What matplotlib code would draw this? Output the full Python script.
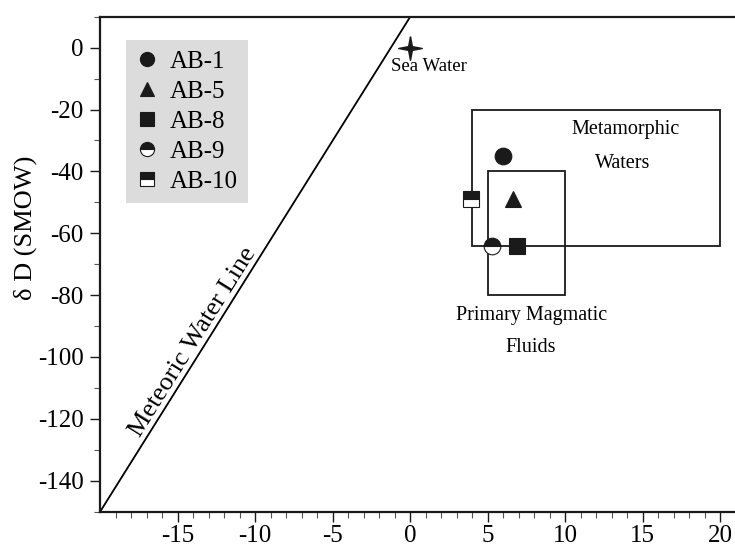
import matplotlib
matplotlib.use("Agg")
import matplotlib.pyplot as plt
from matplotlib.lines import Line2D
from matplotlib.patches import Rectangle
import numpy as np

plt.rcParams['font.family'] = ['Liberation Serif', 'DejaVu Serif']
plt.rcParams['axes.unicode_minus'] = False

# ---- data ----
samples = ['AB-1', 'AB-5', 'AB-8', 'AB-9', 'AB-10']
d18O = [6.0, 6.6, 6.9, 5.3, 3.9]
dD = [-35, -49, -64, -64, -49]
sample_markers = ['o', '^', 's', 'o', 's']
sample_fill = ['full', 'full', 'full', 'top', 'top']

mwl_x = [-20, 0]
mwl_y = [-150, 10]

seawater_x = [0]
seawater_y = [0]

metamorphic_box = dict(x0=4, x1=20, y0=-64, y1=-20)
magmatic_box = dict(x0=5, x1=10, y0=-80, y1=-40)

xticks = [-15, -10, -5, 0, 5, 10, 15, 20]
yticks = [0, -20, -40, -60, -80, -100, -120, -140]

# ---- figure ----
fig = plt.figure(figsize=(7.35, 5.52), dpi=100)
ax = fig.add_axes([0.1363, 0.0732, 0.8637, 0.8964])
ax.set_xlim(-20, 20.95)
ax.set_ylim(-150, 10)

# meteoric water line
ax.plot(mwl_x, mwl_y, color='black', lw=1.3, solid_capstyle='butt')

# boxes
for b in (metamorphic_box, magmatic_box):
    ax.add_patch(Rectangle((b['x0'], b['y0']), b['x1'] - b['x0'], b['y1'] - b['y0'],
                           fill=False, edgecolor='#1a1a1a', lw=1.3))

# sea water star
star = [(0, 1), (0.16, 0.16), (1, 0), (0.16, -0.16), (0, -1), (-0.16, -0.16), (-1, 0), (-0.16, 0.16), (0, 1)]
ax.plot(seawater_x, seawater_y, marker=star, ms=17, color='#1a1a1a', ls='none')
ax.text(-1.25, -6, 'Sea Water', fontsize=13.5, ha='left', va='center')

# samples
sizes = {'o': 12, '^': 11.5, 's': 11.5}
handles = []
for name, x, y, m, f in zip(samples, d18O, dD, sample_markers, sample_fill):
    kw = dict(marker=m, ls='none', color='#1a1a1a', markeredgecolor='#1a1a1a',
              fillstyle=f, markerfacecoloralt='white', markeredgewidth=0.8)
    ax.plot([x], [y], ms=sizes[m], zorder=5, **kw)
    handles.append(Line2D([], [], ms=sizes[m] * 0.85, label=name, **kw))

leg = ax.legend(handles=handles, loc='upper left', bbox_to_anchor=(0.0406, 0.953),
                borderaxespad=0, frameon=True, fancybox=False, facecolor='#dcdcdc',
                edgecolor='none', framealpha=1, fontsize=18, handlelength=0.9,
                handletextpad=0.45, labelspacing=0.3, borderpad=0.4)

# region labels
ax.text(13.9, -26.6, 'Metamorphic', fontsize=14.5, ha='center', va='center')
ax.text(13.7, -37.4, 'Waters', fontsize=14.5, ha='center', va='center')
ax.text(7.8, -86.7, 'Primary Magmatic', fontsize=14.5, ha='center', va='center')
ax.text(7.8, -97.1, 'Fluids', fontsize=14.5, ha='center', va='center')

# meteoric water line label, rotated along the line
p0 = ax.transData.transform((mwl_x[0], mwl_y[0]))
p1 = ax.transData.transform((mwl_x[1], mwl_y[1]))
ang = np.degrees(np.arctan2(p1[1] - p0[1], p1[0] - p0[0]))
tx = -13.4
ty = mwl_y[0] + (tx - mwl_x[0]) * (mwl_y[1] - mwl_y[0]) / (mwl_x[1] - mwl_x[0])
ax.text(tx, ty, 'Meteoric Water Line', fontsize=19, rotation=ang,
        rotation_mode='anchor', ha='center', va='bottom')

# axes styling
for s in ('left', 'bottom', 'top'):
    ax.spines[s].set_linewidth(1.6)
    ax.spines[s].set_color('#1a1a1a')
ax.spines['right'].set_visible(False)

ax.set_xticks(xticks)
ax.set_yticks(yticks)
ax.set_xticks(np.arange(-19, 21, 1), minor=True)
ax.set_yticks(np.arange(-150, 11, 10), minor=True)
ax.tick_params(axis='both', which='major', direction='out', length=7, width=1,
               labelsize=18, color='#1a1a1a')
ax.tick_params(axis='both', which='minor', direction='out', length=4, width=0.8,
               color='#555555')
ax.tick_params(axis='x', pad=3)
ax.tick_params(axis='y', pad=5)

fig.text(25 / 735, 1 - 228 / 552, 'δ D (SMOW)', fontsize=19, rotation=90,
         ha='center', va='center')

fig.savefig('out.png', dpi=100)
